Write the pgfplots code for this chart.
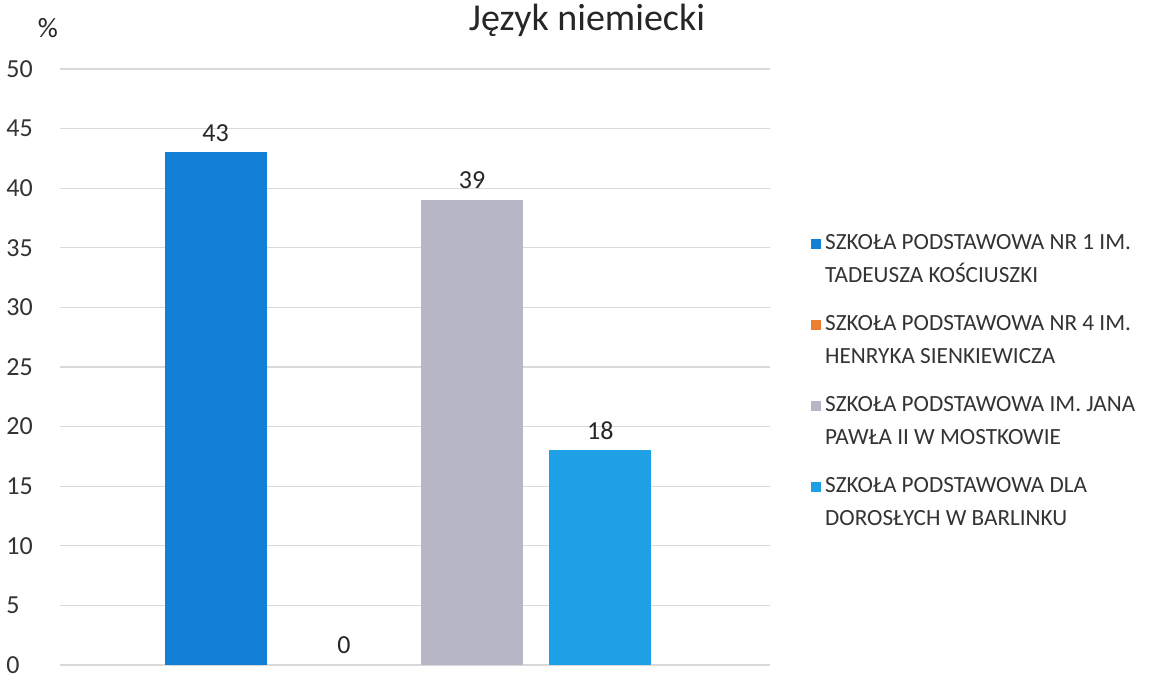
\documentclass[border=0pt]{standalone}
\usepackage{fontspec}
\setmainfont{Carlito}
\usepackage{pgfplots}
\pgfplotsset{compat=1.18}
\definecolor{c1}{RGB}{18,128,214}
\definecolor{c2}{RGB}{237,125,49}
\definecolor{c3}{RGB}{182,182,196}
\definecolor{c4}{RGB}{30,160,230}
\begin{document}
\begin{tikzpicture}[x=1pt,y=1pt]
\path[use as bounding box] (0,0) rectangle (574.5,338.5);
\begin{axis}[
  at={(30pt,6pt)}, anchor=south west,
  scale only axis, width=355pt, height=298pt,
  ymin=0, ymax=50, ytick={0,5,...,50},
  xmin=-0.214, xmax=5.324, xtick=\empty,
  axis line style={draw=none},
  ymajorgrids, grid style={black!15, line width=0.6pt},
  major tick length=0pt, tick style={draw=none},
  /pgf/number format/assume math mode=true,
  yticklabel={\makebox[1.1em][l]{\pgfmathprintnumber{\tick}}},
  yticklabel style={font=\fontsize{13}{15}\selectfont, text=black!80, xshift=-9pt},
  ybar, bar width=51pt, bar shift=0pt,
  nodes near coords,
  every node near coord/.append style={font=\fontsize{13}{15}\selectfont, text=black!85, yshift=2pt},
  legend style={draw=none, fill=none, at={(1.049,0.737)}, anchor=north west,
    font=\fontsize{11.6}{16.5}\selectfont, text=black!80,
    cells={align=left, anchor=west}, row sep=11pt},
  legend image code/.code={\fill[#1,draw=none] (1pt,5.5pt) rectangle (6pt,10.5pt);},
]
\addplot[fill=c1, draw=none] coordinates {(1,43)};
\addlegendentry{SZKOŁA PODSTAWOWA NR 1 IM.\\TADEUSZA KOŚCIUSZKI}
\addplot[fill=none, draw=none, forget plot] coordinates {(2,0)};
\addlegendimage{fill=c2, draw=none}
\addlegendentry{SZKOŁA PODSTAWOWA NR 4 IM.\\HENRYKA SIENKIEWICZA}
\addplot[fill=c3, draw=none] coordinates {(3,39)};
\addlegendentry{SZKOŁA PODSTAWOWA IM. JANA\\PAWŁA II W MOSTKOWIE}
\addplot[fill=c4, draw=none] coordinates {(4,18)};
\addlegendentry{SZKOŁA PODSTAWOWA DLA\\DOROSŁYCH W BARLINKU}
\end{axis}
\node[font=\fontsize{19}{22}\selectfont, text=black!85] at (293.5,328.5) {Język niemiecki};
\node[font=\fontsize{14}{16}\selectfont, text=black!85] at (24,324.5) {\%};
\end{tikzpicture}
\end{document}
